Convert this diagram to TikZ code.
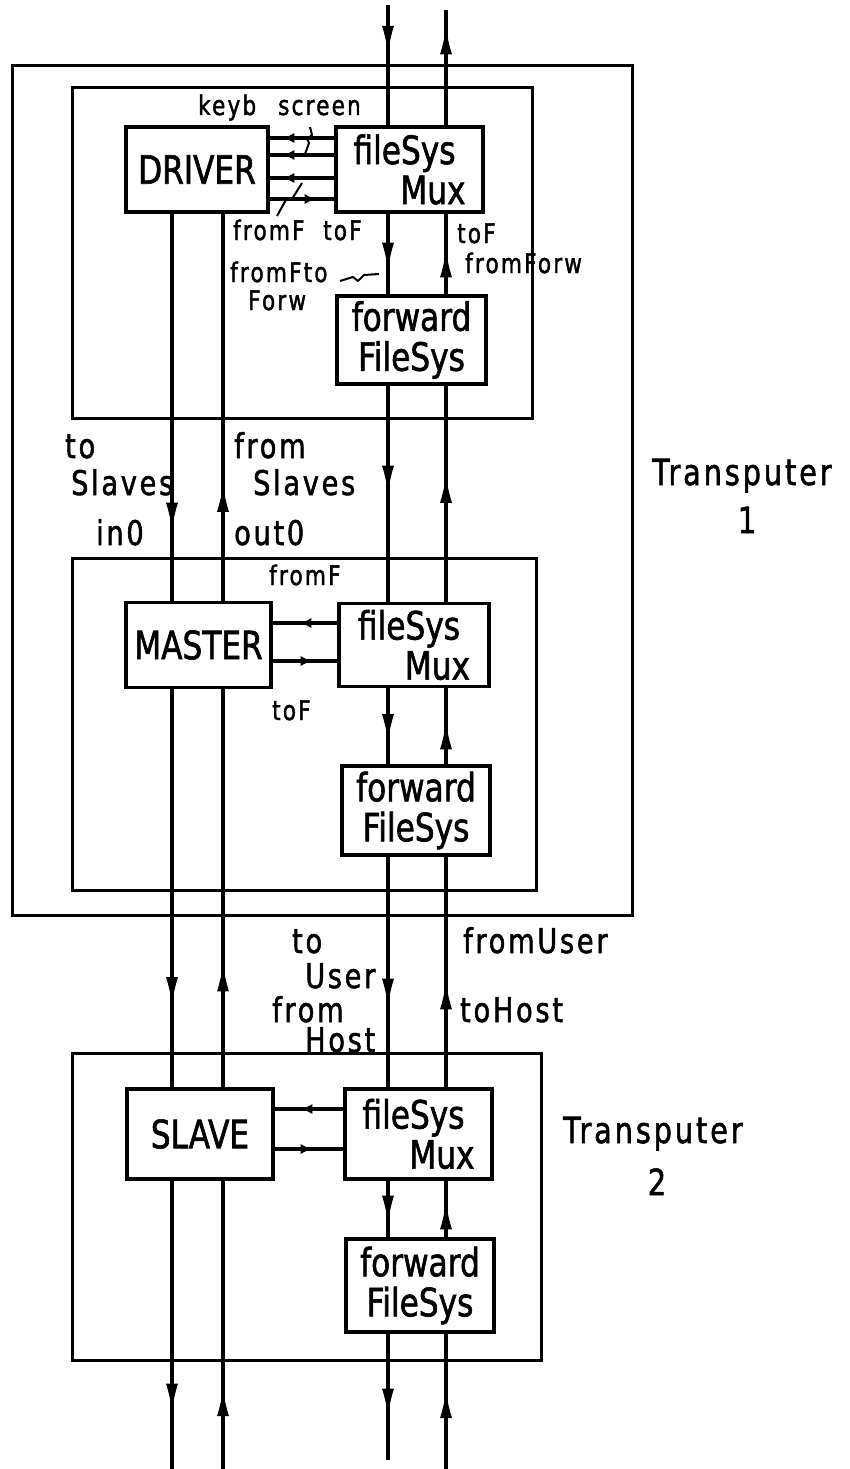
\documentclass[tikz,border=0pt]{standalone}
\usepackage{fontspec}
\newfontfamily\plotfont{DejaVu Sans}[FakeStretch=0.8,LetterSpace=8,FakeBold=1.5]
\newfontfamily\boxfont{DejaVu Sans}[FakeStretch=0.8,FakeBold=1.5]
\usetikzlibrary{arrows.meta,decorations.markings}

\begin{document}
\begin{tikzpicture}[x=1pt, y=-1pt,
  proc/.style={draw, line width=3.4pt, inner sep=0pt, align=center,
               font=\boxfont\fontsize{39}{40}\selectfont},
  grp/.style={draw, line width=3pt, inner sep=0pt},
  chan/.style={line width=3.2pt},
  lead/.style={line width=2pt, line join=round},
  vflow/.style={postaction={decorate}, decoration={markings,
               mark=at position #1 with {\arrow[line width=1pt]{Latex[length=26pt,width=12pt]}}}},
  hflow/.style={postaction={decorate}, decoration={markings,
               mark=at position #1 with {\arrow[line width=1pt]{Latex[length=11pt,width=10pt]}}}},
  lbl/.style={inner sep=0pt, anchor=base west, font=\plotfont\fontsize{34}{34}\selectfont},
  sml/.style={lbl, font=\plotfont\fontsize{27}{27}\selectfont},
  tpl/.style={lbl, font=\plotfont\fontsize{36}{36}\selectfont}
]
\useasboundingbox (0,0) rectangle (849,1469);

% ============ TRANSPUTER FRAMES ============
\node[grp, minimum width=620pt, minimum height=849pt] (tp1) at (322,490.5) {};
\node[grp, minimum width=460pt, minimum height=330pt] (upper) at (302,253) {};
\node[grp, minimum width=464pt, minimum height=332pt] (middle) at (304,724) {};
\node[grp, minimum width=469pt, minimum height=307pt] (tp2) at (306.5,1206.5) {};

% ============ PROCESSES ============
\node[proc, minimum width=142pt, minimum height=85pt] (drv) at (197,169.5) {DRIVER};
\node[proc, minimum width=147pt, minimum height=85pt, align=right] (mux1) at (409.5,169.5) {fileSys\hspace*{10pt}\\Mux};
\node[proc, minimum width=149pt, minimum height=88pt] (fwd1) at (411.5,340) {forward\\FileSys};

\node[proc, minimum width=145pt, minimum height=85pt] (mst) at (198.5,645) {MASTER};
\node[proc, minimum width=150pt, minimum height=83pt, align=right] (mux2) at (414,645) {fileSys\hspace*{10pt}\\Mux};
\node[proc, minimum width=148pt, minimum height=89pt] (fwd2) at (416,810.5) {forward\\FileSys};

\node[proc, minimum width=146pt, minimum height=90pt] (slv) at (200,1134) {SLAVE};
\node[proc, minimum width=147pt, minimum height=90pt, align=right] (mux3) at (418.5,1134) {fileSys\hspace*{10pt}\\Mux};
\node[proc, minimum width=148pt, minimum height=93pt] (fwd3) at (420,1285.5) {forward\\FileSys};

% channel columns and free ends
\coordinate (colA) at (172,0);
\coordinate (colB) at (223,0);
\coordinate (inC)  at (388,5);
\coordinate (outD) at (446,10);
\coordinate (outA) at (172,1469);
\coordinate (inB)  at (223,1469);
\coordinate (outC) at (388,1460);
\coordinate (inD)  at (446,1469);

% ============ SLAVE LINKS (in0 / out0) ============
\draw[chan, vflow=315pt] (drv.south -| colA) -- (mst.north -| colA);
\draw[chan, vflow=115pt] (mst.north -| colB) -- (drv.south -| colB);
\draw[chan, vflow=314pt] (mst.south -| colA) -- (slv.north -| colA);
\draw[chan, vflow=122pt] (slv.north -| colB) -- (mst.south -| colB);
\draw[chan, vflow=229pt] (slv.south -| colA) -- (outA);
\draw[chan, vflow=79pt]  (inB) -- (slv.south -| colB);

% ============ FILE SYSTEM CHAIN ============
\draw[chan, vflow=47pt]  (inC) -- (mux1.north -| inC);
\draw[chan, vflow=97pt]  (mux1.north -| outD) -- (outD);
\draw[chan, vflow=55pt]  (mux1.south -| inC) -- (fwd1.north -| inC);
\draw[chan, vflow=43pt]  (fwd1.north -| outD) -- (mux1.south -| outD);
\draw[chan, vflow=106pt] (fwd1.south -| inC) -- (mux2.north -| inC);
\draw[chan, vflow=125pt] (mux2.north -| outD) -- (fwd1.south -| outD);
\draw[chan, vflow=52pt]  (mux2.south -| inC) -- (fwd2.north -| inC);
\draw[chan, vflow=41pt]  (fwd2.north -| outD) -- (mux2.south -| outD);
\draw[chan, vflow=148pt] (fwd2.south -| inC) -- (mux3.north -| inC);
\draw[chan, vflow=104pt] (mux3.north -| outD) -- (fwd2.south -| outD);
\draw[chan, vflow=41pt]  (mux3.south -| inC) -- (fwd3.north -| inC);
\draw[chan, vflow=34pt]  (fwd3.north -| outD) -- (mux3.south -| outD);
\draw[chan, vflow=81pt]  (fwd3.south -| inC) -- (outC);
\draw[chan, vflow=77pt]  (inD) -- (fwd3.south -| outD);

% ============ MUX <-> USER PROCESS ============
\draw[chan, hflow=51pt] ([yshift=31.5pt]mux1.west) -- ([yshift=31.5pt]drv.east);
\draw[chan, hflow=51pt] ([yshift=14.5pt]mux1.west) -- ([yshift=14.5pt]drv.east);
\draw[chan, hflow=51pt] ([yshift=-8.5pt]mux1.west) -- ([yshift=-8.5pt]drv.east);
\draw[chan, hflow=46pt] ([yshift=-29.5pt]drv.east) -- ([yshift=-29.5pt]mux1.west);

\draw[chan, hflow=37pt] ([yshift=22pt]mux2.west) -- ([yshift=22pt]mst.east);
\draw[chan, hflow=39pt] ([yshift=-16pt]mst.east) -- ([yshift=-16pt]mux2.west);

\draw[chan, hflow=42pt] ([yshift=25pt]mux3.west) -- ([yshift=25pt]slv.east);
\draw[chan, hflow=37pt] ([yshift=-15pt]slv.east) -- ([yshift=-15pt]mux3.west);

% leader marks
\draw[lead] (310,127) -- (312,135) -- (307,139) -- (309,143) -- (305,154);
\draw[lead] (302,183) -- (292,199) -- (287,198) -- (277,216);
\draw[lead] (340,281) -- (353,277) -- (358,281) -- (364,275) -- (379,274);

% ============ LABELS ============
\node[sml] (lkeyb)  at (198,115) {keyb};
\node[sml] (lscr)   at (278,115) {screen};
\node[sml] (lfrF)   at (233,240) {fromF};
\node[sml] (ltoF)   at (323,240) {toF};
\node[sml] (lfFto)  at (230,282) {fromFto};
\node[sml] (lforw)  at (248,310) {Forw};
\node[sml] (ltoF2)  at (457,243) {toF};
\node[sml] (lfForw) at (465,273) {fromForw};

\node[lbl] (lto)    at (65,458)  {to};
\node[lbl] (lsl1)   at (71,495)  {Slaves};
\node[lbl] (lfrom)  at (234,458) {from};
\node[lbl] (lsl2)   at (253,495) {Slaves};
\node[lbl] (lin0)   at (96,545)  {in0};
\node[lbl] (lout0)  at (234,545) {out0};

\node[sml] (lfrF3)  at (269,585) {fromF};
\node[sml] (ltoF3)  at (272,720) {toF};

\node[lbl] (lto2)   at (292,953)  {to};
\node[lbl] (luser)  at (305,988)  {User};
\node[lbl] (lfrom2) at (272,1022) {from};
\node[lbl] (lhost)  at (305,1052) {Host};
\node[lbl] (lfUser) at (463,953)  {fromUser};
\node[lbl] (ltHost) at (460,1022) {toHost};

\node[tpl] (ltp1)  at (652,485) {Transputer};
\node[tpl, anchor=base] (ltp1n) at (747,533) {1};
\node[tpl] (ltp2)  at (563,1143) {Transputer};
\node[tpl, anchor=base] (ltp2n) at (657,1195) {2};

\end{tikzpicture}
\end{document}
